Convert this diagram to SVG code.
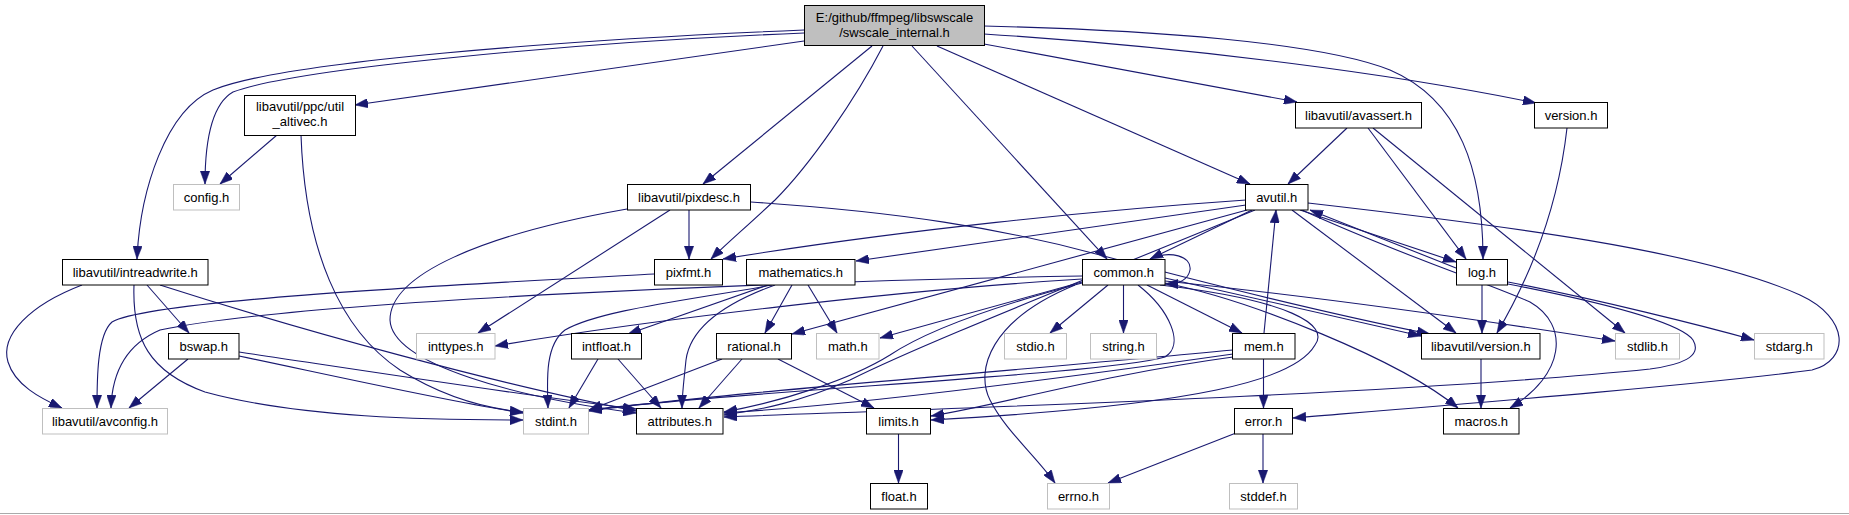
<svg xmlns="http://www.w3.org/2000/svg" width="1849" height="515" viewBox="0 0 1849 515">
<defs>
<style>
.nd rect{fill:#ffffff;stroke:#000000;stroke-width:1}
.ext rect{stroke:#bfbfbf}
.root rect{fill:#bfbfbf}
.nd text{font-family:"Liberation Sans",Arial,sans-serif;font-size:13px;text-anchor:middle;fill:#000000}
#edges path{fill:none;stroke:#191970;stroke-width:1.1;marker-end:url(#ah)}
</style>
<marker id="ah" markerUnits="userSpaceOnUse" viewBox="0 0 13 9.4" markerWidth="13" markerHeight="9.4" refX="13" refY="4.7" orient="auto">
<path d="M0,0 L13,4.7 L0,9.4 z" fill="#191970" stroke="#191970" stroke-width="0.5"/>
</marker>
</defs>
<rect x="0" y="0" width="1849" height="515" fill="#ffffff"/>
<line x1="0" y1="513.5" x2="1849" y2="513.5" stroke="#aaaaaa" stroke-width="1"/>
<g id="edges">
<path d="M804,30 C560,40 280,62 213,90 C166,110 140,190 137,259"/>
<path d="M804,33 C560,43 290,70 233,92 C212,104 205,140 205,184"/>
<path d="M804,41 L355,105"/>
<path d="M872,46 L703,184"/>
<path d="M883,46 C855,100 810,165 775,200 C745,228 725,245 711,259"/>
<path d="M912,46 L1107,259"/>
<path d="M937,46 L1250,184"/>
<path d="M984,44 L1297,102"/>
<path d="M984,34 C1200,48 1400,75 1536,103"/>
<path d="M984,26 C1150,30 1320,42 1390,70 C1460,100 1483,170 1483,259"/>
<path d="M277,135 L220,184"/>
<path d="M301,135 C305,250 340,330 400,370 C440,395 480,408 523,412"/>
<path d="M82,285 C30,305 0,335 8,362 C15,385 40,398 62,408"/>
<path d="M147,285 L189,333"/>
<path d="M134,285 C132,340 150,372 205,392 C300,418 430,420 523,420"/>
<path d="M160,285 C300,330 500,385 636,411"/>
<path d="M188,359 L129,408"/>
<path d="M239,356 C330,375 450,402 523,413"/>
<path d="M239,352 C360,370 520,395 636,409"/>
<path d="M689,210 L689,259"/>
<path d="M670,210 L478,333"/>
<path d="M627,209 C480,235 390,275 390,320 C392,365 520,398 636,413"/>
<path d="M751,202 C900,212 1000,228 1100,255 C1250,295 1360,320 1430,334"/>
<path d="M654,274 C450,285 150,300 112,322 C97,335 97,380 97,408"/>
<path d="M772,285 C690,300 600,310 565,330 C545,345 547,380 548,408"/>
<path d="M768,285 L628,334"/>
<path d="M792,285 L765,333"/>
<path d="M808,285 L837,333"/>
<path d="M775,285 C720,305 690,330 686,360 C684,380 682,395 682,408"/>
<path d="M598,359 L569,408"/>
<path d="M618,359 L661,408"/>
<path d="M722,359 L589,410"/>
<path d="M742,359 L699,408"/>
<path d="M778,359 L874,408"/>
<path d="M898.5,434 L898.5,483"/>
<path d="M1246,200 C1100,210 900,230 723,259"/>
<path d="M1246,205 L856,261"/>
<path d="M1252,210 L1150,259"/>
<path d="M1247,210 L792,334"/>
<path d="M1255,210 C1060,290 920,345 850,380 C800,402 760,410 724,415"/>
<path d="M1300,210 L1456,262"/>
<path d="M1456,268 L1310,210"/>
<path d="M1292,210 L1456,333"/>
<path d="M1302,210 C1400,255 1480,280 1530,302 C1570,325 1565,375 1510,408"/>
<path d="M1308,203 C1500,225 1700,250 1800,295 C1850,318 1850,360 1812,370 C1700,385 1450,405 1293,418"/>
<path d="M1482,285 L1482,333"/>
<path d="M1508,282 C1600,300 1700,325 1754,340"/>
<path d="M1508,284 C1600,302 1680,322 1693,340 C1703,357 1680,365 1650,369 C1400,395 900,410 724,417"/>
<path d="M1347,128 L1288,184"/>
<path d="M1368,128 L1466,259"/>
<path d="M1373,128 L1625,333"/>
<path d="M1567,128 C1560,190 1540,260 1497,333"/>
<path d="M1264,333 L1276,210"/>
<path d="M1263.5,359 L1263.5,408"/>
<path d="M1233,350 C1000,372 700,395 589,411"/>
<path d="M1233,354 C1050,380 850,405 724,413"/>
<path d="M1233,357 C1100,375 1000,405 931,416"/>
<path d="M1236,433 L1108,483"/>
<path d="M1263,434 L1263,483"/>
<path d="M1481,359 L1481,408"/>
<path d="M1108,285 L1050,333"/>
<path d="M1123.5,285 L1123.5,333"/>
<path d="M1147,285 L1242,333"/>
<path d="M1150,259 C1170,250 1192,256 1190,270 C1188,281 1178,284 1165,284"/>
<path d="M1165,278 L1421,336"/>
<path d="M1165,281 C1300,295 1450,315 1615,341"/>
<path d="M1165,283 C1250,300 1400,360 1458,408"/>
<path d="M1160,285 C1290,300 1330,325 1315,345 C1295,380 1200,405 931,420"/>
<path d="M1138,285 C1170,310 1185,345 1165,357 C1100,375 750,390 589,410"/>
<path d="M1082,283 C980,310 920,335 890,355 C850,380 780,402 724,412"/>
<path d="M1082,279 C900,290 650,320 495,346"/>
<path d="M1082,282 L880,338"/>
<path d="M1082,276 C800,281 300,300 160,330 C125,345 112,375 111,408"/>
<path d="M1075,285 C990,320 975,370 990,400 C1005,430 1035,455 1055,483"/>
</g>
<g id="n_main" class="nd root"><rect x="804.5" y="5.5" width="180" height="40"/><text x="894.5" y="22">E:/github/ffmpeg/libswscale</text><text x="894.5" y="37">/swscale_internal.h</text></g>
<g id="n_altivec" class="nd"><rect x="244.5" y="95.5" width="111" height="40"/><text x="300" y="111">libavutil/ppc/util</text><text x="300" y="126">_altivec.h</text></g>
<g id="n_avassert" class="nd"><rect x="1295.5" y="102.5" width="126" height="25.5"/><text x="1358.5" y="119.75">libavutil/avassert.h</text></g>
<g id="n_version" class="nd"><rect x="1534.5" y="102.5" width="73" height="25.5"/><text x="1571" y="119.75">version.h</text></g>
<g id="n_config" class="nd ext"><rect x="173.5" y="184.5" width="66" height="25.5"/><text x="206.5" y="201.75">config.h</text></g>
<g id="n_pixdesc" class="nd"><rect x="627.5" y="184.5" width="123" height="25.5"/><text x="689" y="201.75">libavutil/pixdesc.h</text></g>
<g id="n_avutil" class="nd"><rect x="1245.5" y="184.5" width="62.5" height="25.5"/><text x="1276.75" y="201.75">avutil.h</text></g>
<g id="n_intreadwrite" class="nd"><rect x="62.5" y="259.5" width="145.5" height="25.5"/><text x="135.25" y="276.75">libavutil/intreadwrite.h</text></g>
<g id="n_pixfmt" class="nd"><rect x="654.5" y="259.5" width="68" height="25.5"/><text x="688.5" y="276.75">pixfmt.h</text></g>
<g id="n_mathematics" class="nd"><rect x="746.5" y="259.5" width="108.5" height="25.5"/><text x="800.75" y="276.75">mathematics.h</text></g>
<g id="n_common" class="nd"><rect x="1082.5" y="259.5" width="82.5" height="25.5"/><text x="1123.75" y="276.75">common.h</text></g>
<g id="n_log" class="nd"><rect x="1456.5" y="259.5" width="51" height="25.5"/><text x="1482" y="276.75">log.h</text></g>
<g id="n_bswap" class="nd"><rect x="168.5" y="333.5" width="70.5" height="25.5"/><text x="203.75" y="350.75">bswap.h</text></g>
<g id="n_inttypes" class="nd ext"><rect x="416.5" y="333.5" width="78.5" height="25.5"/><text x="455.75" y="350.75">inttypes.h</text></g>
<g id="n_intfloat" class="nd"><rect x="571.5" y="333.5" width="70" height="25.5"/><text x="606.5" y="350.75">intfloat.h</text></g>
<g id="n_rational" class="nd"><rect x="716.5" y="333.5" width="75" height="25.5"/><text x="754" y="350.75">rational.h</text></g>
<g id="n_math" class="nd ext"><rect x="816.5" y="333.5" width="62.5" height="25.5"/><text x="847.75" y="350.75">math.h</text></g>
<g id="n_stdio" class="nd ext"><rect x="1004.5" y="333.5" width="62" height="25.5"/><text x="1035.5" y="350.75">stdio.h</text></g>
<g id="n_string" class="nd ext"><rect x="1090.5" y="333.5" width="66" height="25.5"/><text x="1123.5" y="350.75">string.h</text></g>
<g id="n_mem" class="nd"><rect x="1232.5" y="333.5" width="62.5" height="25.5"/><text x="1263.75" y="350.75">mem.h</text></g>
<g id="n_lavu_version" class="nd"><rect x="1421.5" y="333.5" width="118.5" height="25.5"/><text x="1480.75" y="350.75">libavutil/version.h</text></g>
<g id="n_stdlib" class="nd ext"><rect x="1615.5" y="333.5" width="64" height="25.5"/><text x="1647.5" y="350.75">stdlib.h</text></g>
<g id="n_stdarg" class="nd ext"><rect x="1754.5" y="333.5" width="69.5" height="25.5"/><text x="1789.25" y="350.75">stdarg.h</text></g>
<g id="n_avconfig" class="nd ext"><rect x="42.5" y="408.5" width="125" height="25.5"/><text x="105" y="425.75">libavutil/avconfig.h</text></g>
<g id="n_stdint" class="nd ext"><rect x="523.5" y="408.5" width="65" height="25.5"/><text x="556" y="425.75">stdint.h</text></g>
<g id="n_attributes" class="nd"><rect x="636.5" y="408.5" width="86.5" height="25.5"/><text x="679.75" y="425.75">attributes.h</text></g>
<g id="n_limits" class="nd"><rect x="866.5" y="408.5" width="64" height="25.5"/><text x="898.5" y="425.75">limits.h</text></g>
<g id="n_error" class="nd"><rect x="1234.5" y="408.5" width="58" height="25.5"/><text x="1263.5" y="425.75">error.h</text></g>
<g id="n_macros" class="nd"><rect x="1443.5" y="408.5" width="75.5" height="25.5"/><text x="1481.25" y="425.75">macros.h</text></g>
<g id="n_float" class="nd"><rect x="870.5" y="483.5" width="57" height="25.5"/><text x="899" y="500.75">float.h</text></g>
<g id="n_errno" class="nd ext"><rect x="1047.5" y="483.5" width="62" height="25.5"/><text x="1078.5" y="500.75">errno.h</text></g>
<g id="n_stddef" class="nd ext"><rect x="1229.5" y="483.5" width="68" height="25.5"/><text x="1263.5" y="500.75">stddef.h</text></g>
</svg>
